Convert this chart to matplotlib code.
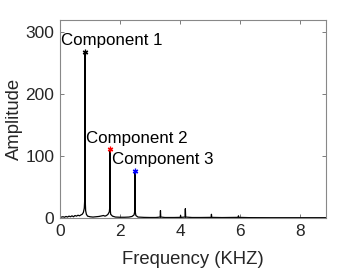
import matplotlib
matplotlib.use("Agg")
import matplotlib.pyplot as plt

plt.rcParams['font.family'] = ['Liberation Sans', 'DejaVu Sans']

# spectrum points (frequency in kHz, amplitude)
freq = [0.00, 0.05, 0.10, 0.15, 0.20, 0.25, 0.30, 0.35, 0.40, 0.45, 0.50, 0.55, 0.60,
        0.65, 0.70, 0.74, 0.78, 0.81, 0.825, 0.833, 0.842, 0.855, 0.88, 0.92, 1.00, 1.10,
        1.20, 1.30, 1.40, 1.45, 1.50, 1.55, 1.60, 1.645, 1.66, 1.667, 1.675, 1.69, 1.75,
        1.85, 2.00, 2.15, 2.30, 2.40, 2.47, 2.49, 2.50, 2.51, 2.53, 2.60, 2.80, 3.00,
        3.20, 3.34, 3.35, 3.36, 3.50, 3.80, 4.01, 4.02, 4.03, 4.17, 4.18, 4.19, 4.40,
        4.70, 5.04, 5.05, 5.06, 5.40, 5.94, 5.95, 5.96, 6.30, 7.00, 7.50, 8.00, 8.50, 8.87]
amp = [1.0, 1.5, 2.0, 1.2, 2.5, 1.5, 3.0, 2.0, 3.5, 2.0, 4.0, 3.0, 4.5,
       3.5, 5.0, 6.0, 9.0, 16.0, 30.0, 269.0, 28.0, 12.0, 6.0, 3.0, 2.0, 1.5,
       2.0, 2.5, 3.5, 4.0, 3.0, 4.0, 6.0, 10.0, 18.0, 111.0, 14.0, 6.0, 3.0,
       1.5, 1.2, 1.2, 1.5, 2.5, 5.0, 10.0, 76.0, 10.0, 4.0, 1.5, 1.0, 0.8,
       0.8, 1.5, 12.0, 1.5, 0.8, 0.8, 1.0, 4.0, 1.0, 1.5, 15.0, 1.5, 0.8,
       0.8, 1.0, 6.0, 1.0, 0.7, 1.0, 3.5, 1.0, 0.6, 0.5, 0.5, 0.5, 0.5, 0.5]

comp_freq = [0.833, 1.667, 2.5]
comp_amp = [269.0, 111.0, 76.0]
comp_colors = ['black', 'red', 'blue']
comp_labels = ['Component 1', 'Component 2', 'Component 3']
label_pos = [(0.03, 287), (0.88, 128), (1.72, 94)]

x_ticks = [0, 2, 4, 6, 8]
y_ticks = [0, 100, 200, 300]

fig = plt.figure(figsize=(3.6, 2.7), dpi=100)
ax = fig.add_axes([60/360, 1-218/270, 266/360, 198/270])
ax.plot(freq, amp, color='black', linewidth=0.9)
for f, a, c in zip(comp_freq, comp_amp, comp_colors):
    ax.plot([f], [a], marker=(6, 2, 0), color=c, markersize=4, markeredgewidth=0.9,
            linestyle='none')
for (tx, ty), lab in zip(label_pos, comp_labels):
    ax.text(tx, ty, lab, fontsize=12.2, ha='left', va='center', color='black')

ax.set_xlim(0, 8.87)
ax.set_ylim(0, 320)
ax.set_xticks(x_ticks)
ax.set_yticks(y_ticks)
ax.tick_params(direction='in', length=3, width=0.6, colors='#666666',
               labelcolor='#262626', labelsize=12.5, top=True, right=True, pad=4)
for s in ax.spines.values():
    s.set_color('#888888')
    s.set_linewidth(0.8)
ax.set_xlabel('Frequency (KHZ)', fontsize=13.3, color='#262626', labelpad=9)
ax.set_ylabel('Amplitude', fontsize=13.3, color='#262626', labelpad=2)

fig.savefig('out.png', dpi=100)
